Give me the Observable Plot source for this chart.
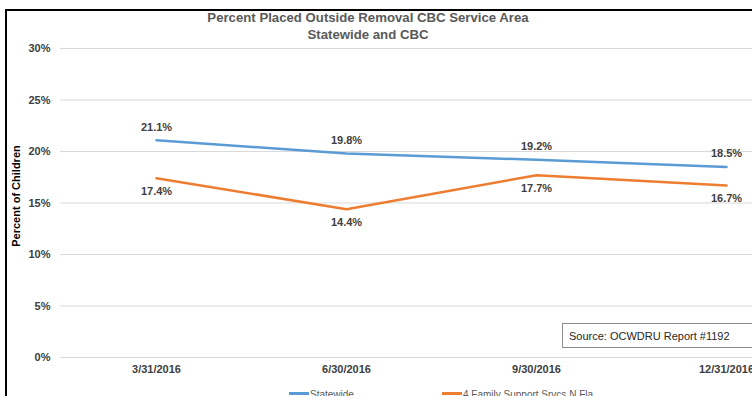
<!DOCTYPE html>
<html>
<head>
<meta charset="utf-8">
<script src="https://cdn.jsdelivr.net/npm/d3@7"></script>
<script src="https://cdn.jsdelivr.net/npm/@observablehq/plot@0.6"></script>
<style>
  html, body { margin: 0; padding: 0; background: #fff; }
  #wrap { position: relative; width: 752px; height: 396px; overflow: hidden; font-family: "Liberation Sans", Arial, sans-serif; }
  #wrap svg { position: absolute; left: 0; top: 0; }
  .title { position: absolute; left: 0; width: 736px; text-align: center; font-weight: bold; font-size: 13.2px; color: #595959; line-height: 17px; top: 9px; }
  .border-left { position: absolute; left: 5px; top: 9px; width: 2px; height: 400px; background: #000; }
  .border-top { position: absolute; left: 5px; top: 9px; width: 760px; height: 2px; background: #000; }
  .source { position: absolute; left: 562px; top: 323px; width: 220px; height: 25px; border: 1px solid #8c8c8c; background: #fff; font-size: 11px; color: #262626; line-height: 24px; padding-left: 6px; box-sizing: border-box; }
  .legend { position: absolute; top: 389px; font-size: 10px; color: #595959; white-space: nowrap; }
  .legend span.sw { display: inline-block; width: 20px; height: 3px; vertical-align: middle; margin-right: 1px; position: relative; top: -2px; }
</style>
</head>
<body>
<div id="wrap"></div>
<script>
const dates = ["3/31/2016", "6/30/2016", "9/30/2016", "12/31/2016"];
const seriesNames = ["Statewide", "4 Family Support Srvcs N Fla"];
const statewide = [21.1, 19.8, 19.2, 18.5];
const cbc = [17.4, 14.4, 17.7, 16.7];
const yTicks = [0, 5, 10, 15, 20, 25, 30];
const colors = ["#5B9BD5", "#ED7D31"];
const title = ["Percent Placed Outside Removal CBC Service Area", "Statewide and CBC"];
const yLabel = "Percent of Children";
const sourceText = "Source: OCWDRU Report #1192";

const data = [];
dates.forEach((d, i) => {
  data.push({date: d, series: seriesNames[0], value: statewide[i]});
  data.push({date: d, series: seriesNames[1], value: cbc[i]});
});

const font = '"Liberation Sans", Arial, sans-serif';
const plot = Plot.plot({
  width: 752,
  height: 396,
  marginLeft: 60,
  marginRight: 0,
  marginTop: 48,
  marginBottom: 39,
  style: {fontFamily: font, background: "transparent"},
  x: {type: "point", domain: dates, range: [155, 727], padding: 0},
  y: {domain: [0, 30]},
  color: {domain: seriesNames, range: colors},
  marks: [
    Plot.gridY(yTicks, {stroke: "#d9d9d9", strokeOpacity: 1}),
    Plot.axisY(yTicks, {tickSize: 0, tickPadding: 10, tickFormat: d => d + "%", label: null, fontWeight: "bold", fontSize: 11, fill: "#404040"}),
    Plot.axisX({tickSize: 0, tickPadding: 8, label: null, fontWeight: "bold", fontSize: 11, fill: "#404040"}),
    Plot.line(data, {x: "date", y: "value", z: "series", stroke: "series", strokeWidth: 2.5}),
    Plot.text(data.filter(d => d.series === seriesNames[0]), {x: "date", y: "value", text: d => d.value.toFixed(1) + "%", dy: -13, fontWeight: "bold", fontSize: 11, fill: "#404040"}),
    Plot.text(data.filter(d => d.series === seriesNames[1]), {x: "date", y: "value", text: d => d.value.toFixed(1) + "%", dy: 13, fontWeight: "bold", fontSize: 11, fill: "#404040"})
  ]
});

const wrap = document.getElementById("wrap");
wrap.appendChild(plot);

// y axis title
d3.select(plot).append("text")
  .attr("transform", "translate(20,196) rotate(-90)")
  .attr("text-anchor", "middle")
  .attr("font-weight", "bold")
  .attr("font-size", 11)
  .attr("fill", "#000")
  .text(yLabel);

const t = document.createElement("div");
t.className = "title";
t.innerHTML = title.map(s => `<div>${s}</div>`).join("");
wrap.appendChild(t);

const bl = document.createElement("div"); bl.className = "border-left"; wrap.appendChild(bl);
const bt = document.createElement("div"); bt.className = "border-top"; wrap.appendChild(bt);

const src = document.createElement("div");
src.className = "source";
src.textContent = sourceText;
wrap.appendChild(src);

const legendX = [289, 442];
seriesNames.forEach((s, i) => {
  const l = document.createElement("div");
  l.className = "legend";
  l.style.left = legendX[i] + "px";
  l.innerHTML = `<span class="sw" style="background:${colors[i]}"></span>${s}`;
  wrap.appendChild(l);
});
</script>
</body>
</html>
